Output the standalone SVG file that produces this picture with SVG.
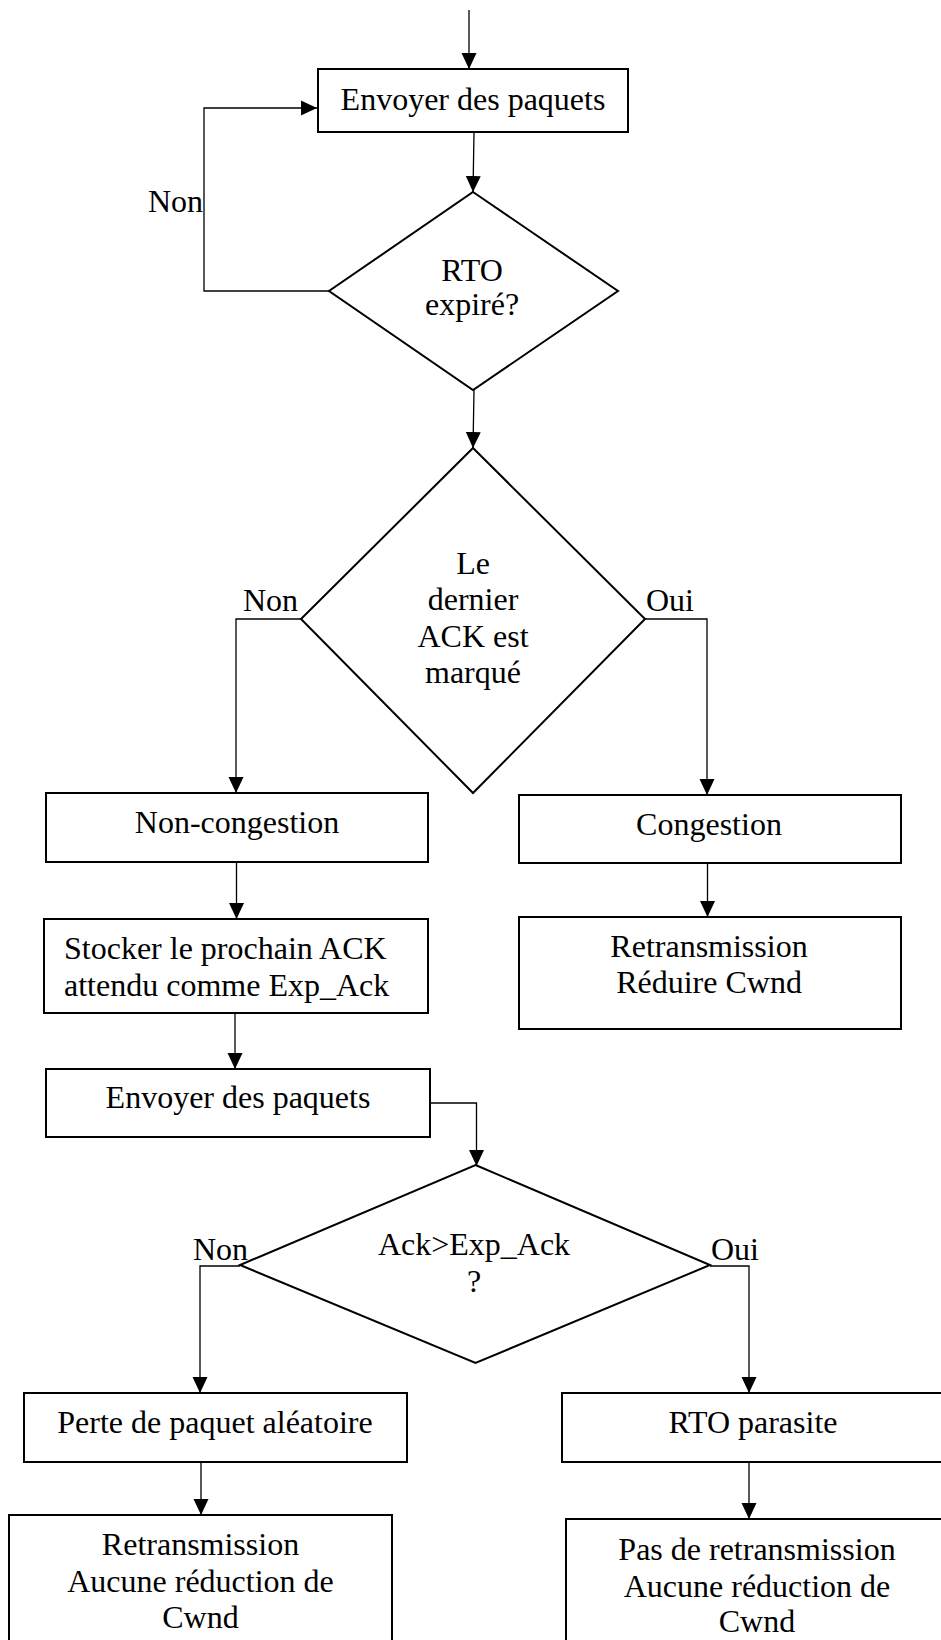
<svg xmlns="http://www.w3.org/2000/svg" width="941" height="1640" viewBox="0 0 941 1640">
  <style>
    .box { fill: #fff; stroke: #000; stroke-width: 2; }
    .dec { fill: #fff; stroke: #000; stroke-width: 2; stroke-linejoin: miter; }
    .edge { fill: none; stroke: #000; stroke-width: 1.3; }
    text { font-family: "Liberation Serif", "Times New Roman", serif; font-size: 32px; fill: #000; }
    .c { text-anchor: middle; }
  </style>
  <defs>
    <marker id="arrow" markerUnits="userSpaceOnUse" markerWidth="16" markerHeight="16" viewBox="0 0 16 16" refX="16" refY="8" orient="auto">
      <path d="M0,0.5 L16,8 L0,15.5 Z" fill="#000"/>
    </marker>
  </defs>

  <rect width="941" height="1640" fill="#fff"/>

  <!-- connectors -->
  <g id="connectors">
    <line class="edge" x1="469" y1="10" x2="469" y2="69" marker-end="url(#arrow)"/>
    <line class="edge" x1="474" y1="132" x2="473" y2="192" marker-end="url(#arrow)"/>
    <polyline class="edge" points="329,291 204,291 204,108 317,108" marker-end="url(#arrow)"/>
    <line class="edge" x1="474" y1="390" x2="473" y2="448" marker-end="url(#arrow)"/>
    <polyline class="edge" points="301,619 236,619 236,793" marker-end="url(#arrow)"/>
    <polyline class="edge" points="645,619 707,619 707,795" marker-end="url(#arrow)"/>
    <line class="edge" x1="236.5" y1="862" x2="236.5" y2="919" marker-end="url(#arrow)"/>
    <line class="edge" x1="707.5" y1="863" x2="707.5" y2="917" marker-end="url(#arrow)"/>
    <line class="edge" x1="235" y1="1013" x2="235" y2="1069" marker-end="url(#arrow)"/>
    <polyline class="edge" points="430,1103 476.5,1103 476.5,1166" marker-end="url(#arrow)"/>
    <polyline class="edge" points="240,1266 200,1266 200,1393" marker-end="url(#arrow)"/>
    <polyline class="edge" points="710,1266 749,1266 749,1393" marker-end="url(#arrow)"/>
    <line class="edge" x1="201" y1="1458" x2="201" y2="1515" marker-end="url(#arrow)"/>
    <line class="edge" x1="749" y1="1462" x2="749" y2="1519" marker-end="url(#arrow)"/>
  </g>

  <!-- branch labels -->
  <g id="labels">
    <text x="148" y="212">Non</text>
    <text x="243" y="611">Non</text>
    <text x="646" y="611">Oui</text>
    <text x="193" y="1260">Non</text>
    <text x="711" y="1260">Oui</text>
  </g>

  <g id="send1">
    <rect class="box" x="318" y="69" width="310" height="63"/>
    <text class="c" x="473" y="110">Envoyer des paquets</text>
  </g>

  <g id="rto-expired">
    <polygon class="dec" points="473,192 618,291 473,390 329,291"/>
    <text class="c" x="472" y="281">RTO</text>
    <text class="c" x="472" y="315">expiré?</text>
  </g>

  <g id="last-ack-marked">
    <polygon class="dec" points="473,448 645,619 473,793 301,619"/>
    <text class="c" x="473" y="574">Le</text>
    <text class="c" x="473" y="610">dernier</text>
    <text class="c" x="473" y="647">ACK est</text>
    <text class="c" x="473" y="683">marqué</text>
  </g>

  <g id="non-congestion">
    <rect class="box" x="46" y="793" width="382" height="69"/>
    <text class="c" x="237" y="833">Non-congestion</text>
  </g>

  <g id="congestion">
    <rect class="box" x="519" y="795" width="382" height="68"/>
    <text class="c" x="709" y="835">Congestion</text>
  </g>

  <g id="store-exp-ack">
    <rect class="box" x="44" y="919" width="384" height="94"/>
    <text x="64" y="959">Stocker le prochain ACK</text>
    <text x="64" y="996">attendu comme Exp_Ack</text>
  </g>

  <g id="retransmit-reduce">
    <rect class="box" x="519" y="917" width="382" height="112"/>
    <text class="c" x="709" y="957">Retransmission</text>
    <text class="c" x="709" y="993">Réduire Cwnd</text>
  </g>

  <g id="send2">
    <rect class="box" x="46" y="1069" width="384" height="68"/>
    <text class="c" x="238" y="1108">Envoyer des paquets</text>
  </g>

  <g id="ack-gt-exp">
    <polygon class="dec" points="475.5,1165 710,1265 475.5,1363 240,1265"/>
    <text class="c" x="474" y="1255">Ack&gt;Exp_Ack</text>
    <text class="c" x="474" y="1292">?</text>
  </g>

  <g id="random-loss">
    <rect class="box" x="24" y="1393" width="383" height="69"/>
    <text class="c" x="215" y="1433">Perte de paquet aléatoire</text>
  </g>

  <g id="spurious-rto">
    <rect class="box" x="562" y="1393" width="384" height="69"/>
    <text class="c" x="753" y="1433">RTO parasite</text>
  </g>

  <g id="retransmit-keep">
    <rect class="box" x="9" y="1515" width="383" height="140"/>
    <text class="c" x="200.5" y="1555">Retransmission</text>
    <text class="c" x="200.5" y="1592">Aucune réduction de</text>
    <text class="c" x="200.5" y="1628">Cwnd</text>
  </g>

  <g id="no-retransmit">
    <rect class="box" x="566" y="1519" width="383" height="140"/>
    <text class="c" x="757" y="1560">Pas de retransmission</text>
    <text class="c" x="757" y="1597">Aucune réduction de</text>
    <text class="c" x="757" y="1632">Cwnd</text>
  </g>
</svg>
